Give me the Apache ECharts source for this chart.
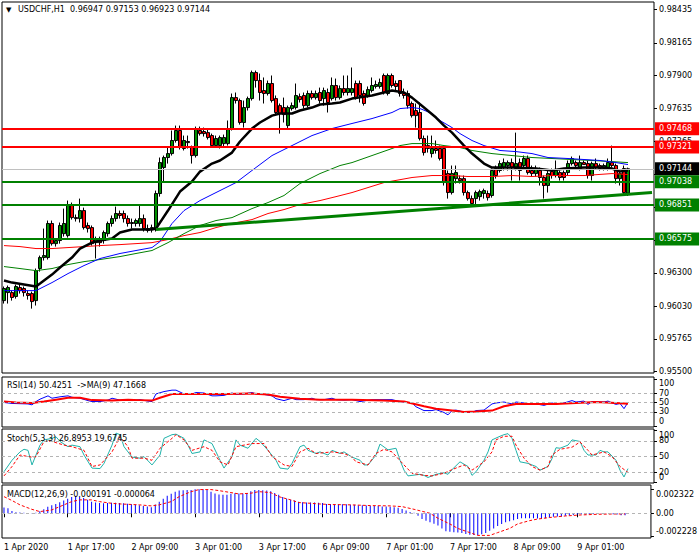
<!DOCTYPE html>
<html><head><meta charset="utf-8">
<script src="https://cdn.jsdelivr.net/npm/echarts@6/dist/echarts.min.js"></script>
<style>html,body{margin:0;padding:0;background:#fff}#c{width:700px;height:560px}</style>
</head><body><div id="c"></div>
<script>
// ---------- DATA ----------
const timeLabels = ['1 Apr 2020','1 Apr 17:00','2 Apr 09:00','3 Apr 01:00','3 Apr 17:00','6 Apr 09:00','7 Apr 01:00','7 Apr 17:00','8 Apr 09:00','9 Apr 01:00'];
const priceTicks = [0.98435,0.98165,0.97900,0.97635,0.97365,0.97100,0.96830,0.96565,0.96300,0.96030,0.95765,0.95500];
const priceLabels = [0.98435,0.98165,0.97900,0.97635,0.97365,0.96830,0.96300,0.96030,0.95765,0.95500];
const rsiTicks = [0,30,50,70,100];
const stochTicks = [0,20,50,80,100];
const stochInner = [20,50,80];
const stochEdge = [0,100];
const macdTicks = [-0.002228,0,0.002322];

const opens = [0.96075,0.96140,0.96140,0.96108,0.96181,0.96173,0.96132,0.96132,0.96075,0.96335,
0.96424,0.96424,0.96700,0.96537,0.96562,0.96618,0.96602,0.96846,0.96748,0.96740,
0.96805,0.96684,0.96667,0.96545,0.96562,0.96562,0.96618,0.96700,0.96740,0.96781,
0.96781,0.96740,0.96708,0.96700,0.96700,0.96740,0.96659,0.96659,0.96659,0.96943,
0.97154,0.97235,0.97267,0.97373,0.97454,0.97308,0.97365,0.97316,0.97251,0.97454,
0.97446,0.97437,0.97413,0.97332,0.97332,0.97348,0.97348,0.97470,0.97721,0.97697,
0.97519,0.97640,0.97713,0.97924,0.97859,0.97778,0.97754,0.97835,0.97713,0.97656,
0.97640,0.97494,0.97632,0.97640,0.97729,0.97738,0.97656,0.97754,0.97721,0.97762,
0.97713,0.97762,0.97713,0.97819,0.97721,0.97794,0.97762,0.97762,0.97835,0.97835,
0.97754,0.97738,0.97778,0.97811,0.97811,0.97900,0.97754,0.97900,0.97835,0.97859,
0.97754,0.97754,0.97673,0.97616,0.97600,0.97389,0.97332,0.97267,0.97308,0.97308,
0.97308,0.97105,0.96951,0.97064,0.97064,0.97064,0.96951,0.96902,0.96902,0.96918,
0.96943,0.96943,0.96927,0.97146,0.97130,0.97154,0.97170,0.97194,0.97146,0.97194,
0.97170,0.97227,0.97130,0.97105,0.97130,0.97073,0.97008,0.97121,0.97089,0.97113,
0.97113,0.97113,0.97186,0.97194,0.97146,0.97194,0.97186,0.97089,0.97186,0.97170,
0.97146,0.97146,0.97194,0.97170,0.97064,0.97146,0.96947];
const highs = [0.96189,0.96197,0.96156,0.96205,0.96205,0.96189,0.96156,0.96148,0.96335,0.96440,
0.96659,0.96724,0.96724,0.96578,0.96708,0.96821,0.96886,0.96870,0.96773,0.96902,
0.96829,0.96708,0.96684,0.96594,0.96594,0.96643,0.96716,0.96765,0.96837,0.96805,
0.96805,0.96765,0.96740,0.96740,0.96846,0.96773,0.96691,0.96691,0.96967,0.97235,
0.97251,0.97316,0.97454,0.97494,0.97494,0.97413,0.97413,0.97332,0.97486,0.97486,
0.97478,0.97470,0.97429,0.97413,0.97413,0.97421,0.97535,0.97754,0.97762,0.97713,
0.97697,0.97729,0.97940,0.97940,0.97916,0.97884,0.97859,0.97900,0.97738,0.97673,
0.97721,0.97656,0.97681,0.97835,0.97754,0.97762,0.97778,0.97778,0.97778,0.97802,
0.97802,0.97794,0.97884,0.97875,0.97819,0.97900,0.97900,0.97965,0.97859,0.97859,
0.97778,0.97811,0.97884,0.97859,0.97875,0.97916,0.97916,0.97916,0.97859,0.97859,
0.97794,0.97778,0.97689,0.97673,0.97681,0.97413,0.97413,0.97413,0.97373,0.97332,
0.97324,0.97130,0.97170,0.97170,0.97089,0.97089,0.96967,0.96927,0.96967,0.96975,
0.96983,0.96967,0.97146,0.97170,0.97211,0.97227,0.97211,0.97227,0.97437,0.97227,
0.97251,0.97251,0.97170,0.97170,0.97154,0.97089,0.97130,0.97146,0.97211,0.97130,
0.97130,0.97211,0.97243,0.97211,0.97251,0.97211,0.97211,0.97202,0.97227,0.97186,
0.97186,0.97227,0.97332,0.97186,0.97130,0.97170,0.97153];
const lows = [0.96051,0.96051,0.96075,0.96091,0.96132,0.96108,0.96083,0.96010,0.96035,0.96310,
0.96400,0.96408,0.96521,0.96513,0.96537,0.96594,0.96586,0.96732,0.96716,0.96708,
0.96651,0.96627,0.96521,0.96416,0.96513,0.96537,0.96594,0.96675,0.96716,0.96740,
0.96708,0.96675,0.96659,0.96675,0.96675,0.96635,0.96627,0.96627,0.96635,0.96918,
0.97032,0.97186,0.97251,0.97356,0.97300,0.97292,0.97308,0.97186,0.97235,0.97413,
0.97405,0.97381,0.97316,0.97316,0.97308,0.97324,0.97332,0.97454,0.97673,0.97502,
0.97478,0.97616,0.97697,0.97802,0.97697,0.97673,0.97738,0.97681,0.97575,0.97429,
0.97519,0.97470,0.97616,0.97624,0.97681,0.97632,0.97640,0.97705,0.97705,0.97673,
0.97656,0.97600,0.97697,0.97697,0.97705,0.97738,0.97738,0.97738,0.97705,0.97681,
0.97656,0.97721,0.97762,0.97794,0.97794,0.97746,0.97738,0.97802,0.97778,0.97729,
0.97713,0.97632,0.97559,0.97478,0.97373,0.97251,0.97275,0.97235,0.97267,0.97211,
0.97008,0.96902,0.96935,0.97024,0.97024,0.96927,0.96886,0.96846,0.96854,0.96886,
0.96902,0.96886,0.96910,0.97064,0.97113,0.97130,0.97130,0.97048,0.97130,0.97048,
0.97146,0.97097,0.97081,0.97081,0.97008,0.96902,0.96951,0.97064,0.97073,0.97048,
0.97048,0.97089,0.97170,0.97154,0.97130,0.97178,0.97064,0.97048,0.97138,0.97130,
0.97130,0.97130,0.97154,0.97024,0.97008,0.96935,0.96923];
const closes = [0.96173,0.96181,0.96100,0.96189,0.96156,0.96140,0.96116,0.96067,0.96318,0.96424,
0.96440,0.96700,0.96537,0.96562,0.96684,0.96700,0.96846,0.96748,0.96740,0.96805,
0.96667,0.96659,0.96537,0.96578,0.96545,0.96627,0.96700,0.96740,0.96781,0.96765,
0.96740,0.96700,0.96700,0.96724,0.96740,0.96659,0.96643,0.96667,0.96943,0.97194,
0.97235,0.97267,0.97373,0.97454,0.97316,0.97373,0.97356,0.97251,0.97470,0.97429,
0.97429,0.97397,0.97332,0.97389,0.97397,0.97397,0.97470,0.97721,0.97697,0.97519,
0.97640,0.97713,0.97924,0.97859,0.97762,0.97754,0.97835,0.97697,0.97600,0.97592,
0.97583,0.97640,0.97656,0.97738,0.97705,0.97656,0.97754,0.97721,0.97754,0.97697,
0.97778,0.97681,0.97819,0.97721,0.97794,0.97762,0.97794,0.97794,0.97721,0.97738,
0.97673,0.97786,0.97819,0.97827,0.97843,0.97762,0.97900,0.97819,0.97811,0.97754,
0.97738,0.97656,0.97575,0.97575,0.97389,0.97275,0.97308,0.97308,0.97292,0.97227,
0.97032,0.96951,0.97105,0.97113,0.97048,0.96951,0.96902,0.96862,0.96951,0.96959,
0.96967,0.96910,0.97130,0.97089,0.97186,0.97194,0.97194,0.97154,0.97186,0.97130,
0.97227,0.97113,0.97105,0.97146,0.97073,0.97008,0.97105,0.97089,0.97130,0.97073,
0.97073,0.97186,0.97227,0.97170,0.97194,0.97178,0.97089,0.97186,0.97154,0.97146,
0.97170,0.97194,0.97170,0.97064,0.97105,0.96951,0.97144];

// moving averages [barIndex, price]
const maBlack = [[0,0.96238],[2,0.96221],[5,0.96205],[8,0.96189],[9,0.96213],[12,0.96286],[14,0.96343],[17,0.96424],[19,0.96497],[22,0.96545],[24,0.96562],[27,0.96578],[29,0.96627],[32,0.96651],[37,0.96651],[38,0.96659],[41,0.96805],[44,0.96959],[47,0.97040],[49,0.97121],[52,0.97186],[54,0.97211],[57,0.97275],[59,0.97365],[62,0.97470],[64,0.97519],[67,0.97575],[69,0.97592],[72,0.97592],[74,0.97616],[77,0.97640],[79,0.97665],[82,0.97673],[84,0.97681],[87,0.97713],[92,0.97738],[95,0.97762],[97,0.97778],[100,0.97762],[102,0.97721],[105,0.97640],[108,0.97559],[110,0.97494],[112,0.97437],[115,0.97332],[117,0.97267],[120,0.97186],[122,0.97154],[125,0.97154],[128,0.97154],[133,0.97146],[137,0.97130],[140,0.97146],[145,0.97154],[150,0.97154],[152,0.97146],[154,0.97121],[156,0.97130]];
const maBlue = [[0,0.96156],[8,0.96156],[12,0.96221],[16,0.96294],[20,0.96359],[24,0.96416],[29,0.96457],[33,0.96481],[37,0.96505],[39,0.96554],[42,0.96700],[45,0.96805],[49,0.96886],[53,0.96951],[58,0.97032],[62,0.97130],[67,0.97251],[72,0.97332],[77,0.97413],[82,0.97470],[87,0.97511],[92,0.97551],[97,0.97600],[99,0.97632],[102,0.97640],[104,0.97632],[107,0.97592],[109,0.97535],[112,0.97478],[114,0.97429],[117,0.97373],[120,0.97332],[124,0.97292],[128,0.97283],[132,0.97267],[136,0.97235],[141,0.97227],[145,0.97219],[149,0.97211],[153,0.97194],[156,0.97178]];
const maGreen = [[0,0.96351],[4,0.96335],[8,0.96318],[12,0.96335],[16,0.96367],[20,0.96391],[24,0.96408],[29,0.96432],[33,0.96457],[37,0.96481],[41,0.96545],[45,0.96618],[49,0.96684],[53,0.96724],[57,0.96748],[62,0.96821],[66,0.96870],[70,0.96927],[74,0.97024],[79,0.97105],[84,0.97170],[87,0.97194],[92,0.97251],[97,0.97308],[99,0.97332],[102,0.97348],[107,0.97348],[110,0.97332],[114,0.97316],[117,0.97292],[122,0.97267],[127,0.97251],[132,0.97235],[137,0.97227],[142,0.97219],[147,0.97211],[152,0.97202],[156,0.97194]];
const maRed = [[0,0.96521],[4,0.96513],[8,0.96497],[12,0.96497],[16,0.96505],[20,0.96513],[24,0.96521],[29,0.96529],[33,0.96537],[37,0.96545],[41,0.96570],[45,0.96602],[49,0.96627],[53,0.96667],[57,0.96700],[62,0.96732],[66,0.96781],[70,0.96813],[74,0.96854],[79,0.96886],[83,0.96918],[87,0.96951],[95,0.97032],[102,0.97073],[107,0.97089],[112,0.97089],[116,0.97081],[122,0.97081],[127,0.97089],[132,0.97081],[137,0.97089],[145,0.97089],[152,0.97105],[156,0.97097]];
const trendLine = [[38,0.96651],[162,0.96951]];
const levelsRed = [0.97468,0.97321];
const levelsGreen = [0.97038,0.96851,0.96575];
const bidPrice = 0.97144;

const rsiVals = [[0,50],[2,48],[6,47],[7,45],[8,52],[9,57],[11,64],[12,59],[14,62],[16,64],[17,61],[19,59],[21,54],[22,52],[24,52],[26,55],[27,59],[29,55],[31,55],[32,54],[34,56],[36,53],[37,52],[38,68],[40,73],[42,76],[43,76],[45,68],[47,68],[48,71],[50,70],[52,64],[53,64],[55,65],[57,70],[58,67],[60,68],[62,71],[63,68],[65,67],[67,64],[68,58],[70,54],[72,59],[73,56],[75,56],[77,59],[78,56],[80,56],[82,59],[83,56],[85,55],[87,56],[89,52],[92,56],[94,56],[97,56],[99,52],[102,49],[103,41],[105,33],[107,33],[108,35],[110,29],[111,24],[112,33],[113,34],[115,30],[117,29],[118,33],[120,34],[122,47],[123,49],[125,51],[127,47],[128,51],[130,49],[132,47],[133,47],[135,44],[137,49],[138,47],[140,49],[142,54],[143,51],[145,53],[146,46],[147,52],[150,51],[151,53],[152,49],[153,46],[154,48],[155,37],[156,50.4251]];
const rsiMa = [[0,52],[3,50],[7,49],[10,52],[13,56],[16,60],[19,60],[22,55],[27,54],[31,56],[34,55],[37,54],[39,60],[42,68],[46,68],[51,68],[56,68],[61,69],[66,67],[69,62],[74,58],[79,56],[87,56],[95,54],[100,52],[105,42],[108,37],[112,33],[115,30],[118,31],[122,33],[125,42],[128,47],[133,47],[138,47],[143,49],[148,51],[153,49],[156,47.1668]];
const stochMain = [[0,21],[2,43],[4,59],[5,64],[6,62],[7,34],[9,72],[10,82],[12,85],[13,88],[14,79],[16,69],[17,72],[19,69],[20,53],[22,28],[24,27],[25,37],[27,72],[28,95],[29,92],[30,69],[32,49],[34,47],[35,50],[37,34],[39,53],[40,85],[42,92],[43,93],[45,85],[46,72],[47,56],[49,59],[50,82],[52,75],[54,43],[55,28],[57,50],[58,82],[59,72],[61,66],[63,85],[64,79],[66,62],[68,43],[69,28],[71,26],[72,37],[74,69],[75,72],[76,62],[78,56],[79,59],[81,53],[82,62],[84,56],[85,59],[87,49],[89,43],[90,34],[91,34],[93,53],[94,74],[96,63],[98,66],[99,43],[100,24],[101,13],[104,16],[105,14],[106,10],[108,16],[110,19],[111,16],[112,25],[114,40],[116,31],[117,14],[118,21],[120,43],[121,59],[122,82],[124,89],[125,92],[126,94],[127,85],[128,62],[129,40],[131,37],[133,31],[134,24],[136,31],[137,46],[138,67],[139,66],[141,72],[142,82],[144,79],[145,62],[146,53],[148,53],[149,62],[150,59],[151,59],[153,43],[154,24],[155,11],[156,26.8953]];
const stochSignal = [[0,13],[2,31],[4,53],[7,49],[8,50],[10,79],[12,79],[15,72],[17,69],[20,62],[22,31],[24,34],[27,59],[29,88],[31,69],[32,47],[35,47],[37,43],[39,66],[42,85],[43,92],[45,82],[47,62],[50,69],[52,62],[54,40],[56,34],[58,69],[60,72],[62,75],[65,75],[67,50],[70,34],[72,31],[74,59],[76,66],[78,56],[82,59],[85,56],[87,49],[88,40],[91,34],[93,56],[95,64],[97,59],[100,34],[102,18],[105,14],[107,13],[110,18],[112,25],[115,34],[117,24],[120,40],[122,59],[123,82],[125,89],[127,89],[128,72],[130,47],[132,31],[134,24],[136,31],[137,53],[139,64],[142,68],[144,78],[146,62],[147,53],[150,59],[152,50],[154,31],[156,19.6745]];
const macdHist = [0.00055,0.00048,0.00022,0.00009,0.00007,0.00004,0.00002,-0.00002,0.00004,0.00020,
0.00039,0.00062,0.00078,0.00090,0.00106,0.00123,0.00140,0.00157,0.00167,0.00157,
0.00146,0.00129,0.00112,0.00103,0.00099,0.00096,0.00099,0.00101,0.00101,0.00099,
0.00096,0.00092,0.00087,0.00081,0.00076,0.00069,0.00064,0.00058,0.00084,0.00112,
0.00140,0.00168,0.00188,0.00207,0.00218,0.00222,0.00224,0.00224,0.00231,0.00232,
0.00231,0.00224,0.00207,0.00190,0.00181,0.00177,0.00177,0.00188,0.00193,0.00190,
0.00190,0.00196,0.00213,0.00224,0.00224,0.00222,0.00218,0.00213,0.00196,0.00179,
0.00157,0.00140,0.00129,0.00123,0.00112,0.00106,0.00103,0.00103,0.00103,0.00101,
0.00099,0.00090,0.00090,0.00087,0.00086,0.00086,0.00086,0.00081,0.00081,0.00078,
0.00076,0.00074,0.00071,0.00071,0.00069,0.00065,0.00065,0.00063,0.00058,0.00052,
0.00040,0.00027,0.00013,0.00004,-0.00025,-0.00054,-0.00073,-0.00087,-0.00101,-0.00118,
-0.00146,-0.00174,-0.00179,-0.00183,-0.00185,-0.00190,-0.00199,-0.00207,-0.00208,-0.00208,
-0.00202,-0.00190,-0.00168,-0.00146,-0.00123,-0.00103,-0.00087,-0.00076,-0.00067,-0.00056,
-0.00048,-0.00048,-0.00048,-0.00048,-0.00050,-0.00055,-0.00047,-0.00040,-0.00034,-0.00032,
-0.00031,-0.00025,-0.00020,-0.00017,-0.00013,-0.00010,-0.00011,-0.00008,-0.00007,-0.00007,
-0.00003,-0.00003,-0.00003,-0.00009,-0.00011,-0.00020,-0.000191];
const macdSignal = [[0,0.00160],[2,0.00123],[4,0.00081],[7,0.00038],[9,0.00016],[12,0.00032],[14,0.00064],[17,0.00112],[19,0.00129],[22,0.00129],[24,0.00112],[27,0.00096],[29,0.00090],[34,0.00081],[37,0.00071],[39,0.00081],[42,0.00112],[44,0.00160],[47,0.00208],[49,0.00228],[52,0.00228],[54,0.00218],[57,0.00199],[59,0.00186],[62,0.00193],[64,0.00208],[67,0.00199],[69,0.00160],[72,0.00129],[74,0.00103],[77,0.00096],[79,0.00090],[82,0.00084],[87,0.00081],[92,0.00074],[97,0.00071],[100,0.00064],[103,0.00038],[107,0],[109,-0.00048],[112,-0.00103],[114,-0.00146],[117,-0.00186],[119,-0.00213],[122,-0.00213],[124,-0.00186],[127,-0.00146],[129,-0.00103],[132,-0.00071],[134,-0.00056],[137,-0.00041],[141,-0.00026],[145,-0.00016],[149,-0.00010],[153,-0.00007],[156,-0.000064]];

// ---------- CHART ----------
const N = 163;
const cats = Array.from({length: N}, (_, i) => 'b' + i);
const FONT = '"DejaVu Sans"';
const chart = echarts.init(document.getElementById('c'), null, {renderer: 'svg'});

const tickIdx = (i) => i % 16 === 0 && i / 16 < timeLabels.length;
function xAx(gi, show) {
  return {type: 'category', gridIndex: gi, data: cats, boundaryGap: true,
    axisLine: {show: false}, splitLine: {show: false},
    axisTick: {show: show, alignWithLabel: true, interval: tickIdx, length: 4, lineStyle: {color: '#000'}},
    axisLabel: {show: show, interval: tickIdx, formatter: (v, i) => timeLabels[i / 16] || '',
      align: 'left', margin: 5, fontSize: 8, fontFamily: FONT, color: '#000'}};
}
function yAx(gi, min, max, ticks, labels, fmt) {
  return {type: 'value', gridIndex: gi, position: 'right', min: min, max: max,
    axisLine: {show: false}, splitLine: {show: false},
    axisTick: {show: ticks.length > 0, customValues: ticks, length: 3, lineStyle: {color: '#000'}},
    axisLabel: {customValues: labels, formatter: fmt, margin: 5, fontSize: 8, fontFamily: FONT, color: '#000',
      showMinLabel: true, showMaxLabel: true, hideOverlap: false,
      rich: {t: {padding: [10, 0, 0, 0], fontSize: 8, fontFamily: FONT, color: '#000'},
             b: {padding: [0, 0, 10, 0], fontSize: 8, fontFamily: FONT, color: '#000'}}}};
}
const edgeFmt = v => v === 100 ? '{t|100}' : (v === 0 ? '{b|0}' : String(v));
const gridBase = {left: 2, width: 652, show: true, borderColor: '#000', borderWidth: 1, backgroundColor: '#fff'};
const dashLv = (vals) => ({silent: true, symbol: 'none', animation: false, precision: 6, label: {show: false},
  lineStyle: {color: '#b4b4b4', type: [3, 3], width: 1}, data: vals.map(v => ({yAxis: v}))});
const lvlLabel = (bg) => ({show: true, position: 'end', distance: 1, color: '#fff', backgroundColor: bg,
  fontSize: 8, fontFamily: FONT, padding: [3, 7, 2, 4], formatter: (p) => Number(p.value).toFixed(5)});

const lineS = (xi, yi, data, color, width, type) => ({type: 'line', xAxisIndex: xi, yAxisIndex: yi, data: data,
  showSymbol: false, symbol: 'none', silent: true, animation: false,
  lineStyle: {color: color, width: width, type: type || 'solid'}});

const option = {
  animation: false,
  backgroundColor: '#fff',
  grid: [
    Object.assign({top: 2, height: 371}, gridBase),
    Object.assign({top: 377, height: 50}, gridBase),
    Object.assign({top: 429, height: 54}, gridBase),
    Object.assign({top: 485, height: 53}, gridBase)
  ],
  xAxis: [xAx(0, false), xAx(1, false), xAx(2, false), xAx(3, true)],
  yAxis: [
    yAx(0, 0.95488, 0.98496, priceTicks, priceLabels, v => v.toFixed(5)),
    yAx(1, -1.6, 103.7, rsiTicks, rsiTicks, edgeFmt),
    yAx(2, -0.6, 102.9, stochTicks, stochInner, v => String(v)),
    yAx(3, -0.00238, 0.00272, macdTicks, macdTicks, v => Math.abs(v) < 1e-9 ? '0.00' : (v > 0 ? '{t|' + v.toFixed(6) + '}' : '{b|' + v.toFixed(6) + '}')),
    yAx(2, -0.6, 102.9, [], stochEdge, edgeFmt)
  ],
  series: [
    {type: 'candlestick', xAxisIndex: 0, yAxisIndex: 0, barWidth: 3, silent: true,
      data: opens.map((o, i) => [o, closes[i], lows[i], highs[i]]),
      itemStyle: {color: '#009000', color0: '#ff0000', borderColor: '#000', borderColor0: '#000', borderWidth: 1}},
    lineS(0, 0, maRed, '#ff0000', 1),
    lineS(0, 0, maGreen, '#008000', 1),
    lineS(0, 0, maBlue, '#0000ff', 1),
    lineS(0, 0, maBlack, '#000000', 2.5),
    Object.assign(lineS(0, 0, trendLine, '#008000', 3), {
      markLine: {silent: true, symbol: 'none', animation: false, precision: 5,
        data: [].concat(
          levelsRed.map(v => ({yAxis: v, lineStyle: {color: '#ff0000', width: 2, type: 'solid'}, label: lvlLabel('#ff0000')})),
          [{yAxis: bidPrice, lineStyle: {color: '#c0c0c0', width: 1, type: 'solid'}, label: lvlLabel('#000000')}],
          levelsGreen.map(v => ({yAxis: v, lineStyle: {color: '#008000', width: 2, type: 'solid'}, label: lvlLabel('#008000')}))
        )}}),
    Object.assign(lineS(1, 1, rsiVals, '#0000ff', 1), {markLine: dashLv([70, 50, 30])}),
    lineS(1, 1, rsiMa, '#ff0000', 2),
    Object.assign(lineS(2, 2, stochMain, '#20b2aa', 1), {markLine: dashLv([80, 50, 20])}),
    lineS(2, 2, stochSignal, '#ff0000', 1, [3, 2]),
    {type: 'bar', xAxisIndex: 3, yAxisIndex: 3, data: macdHist, barWidth: 1, silent: true, animation: false,
      itemStyle: {color: '#0000ff'}, markLine: dashLv([0])},
    lineS(3, 3, macdSignal, '#ff0000', 1, [3, 2])
  ],
  graphic: [
    {type: 'text', left: 6, top: 6, z: 100, style: {text: '\u25BC', font: '7px ' + FONT, fill: '#000'}},
    {type: 'text', left: 18, top: 5, z: 100, style: {text: 'USDCHF,H1  0.96947 0.97153 0.96923 0.97144', font: '8px ' + FONT, fill: '#000'}},
    {type: 'text', left: 7, top: 381, z: 100, style: {text: 'RSI(14) 50.4251  ->MA(9) 47.1668', font: '8px ' + FONT, fill: '#000'}},
    {type: 'text', left: 7, top: 434, z: 100, style: {text: 'Stoch(5,3,3) 26.8953 19.6745', font: '8px ' + FONT, fill: '#000'}},
    {type: 'text', left: 7, top: 490, z: 100, style: {text: 'MACD(12,26,9) -0.000191 -0.000064', font: '8px ' + FONT, fill: '#000'}}
  ]
};
chart.setOption(option);
</script>
</body></html>
